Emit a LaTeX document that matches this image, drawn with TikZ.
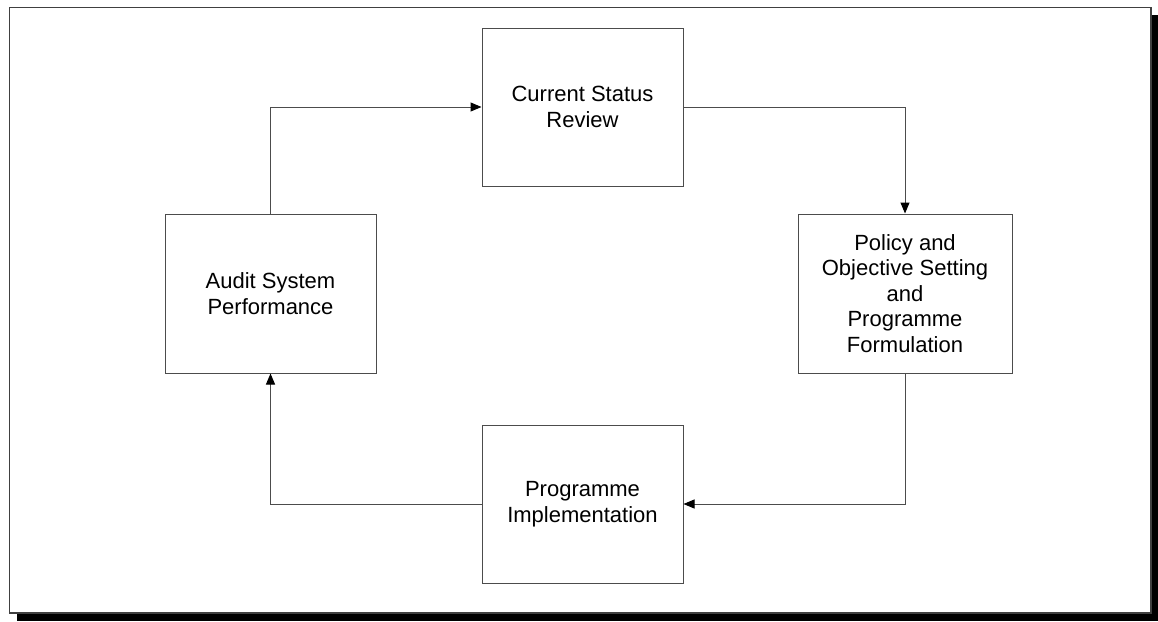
\documentclass[tikz,border=0pt]{standalone}
\usepackage{fontspec}
\setmainfont{Liberation Sans}
\usetikzlibrary{arrows.meta}
\begin{document}
\begin{tikzpicture}[x=1pt,y=-1pt,
  stepbox/.style={draw=black!70,line width=1pt,fill=white,minimum width=#1,align=center,font=\fontsize{22}{25.5}\selectfont},
  conn/.style={draw=black!70,line width=1pt,-{Triangle[length=11pt,width=9pt,color=black]}}]
\useasboundingbox (0,0) rectangle (1158,621);
\fill[black] (17,15) rectangle (1158,621);
\draw[fill=white,draw=black!75,line width=1.5pt] (9.5,7.5) rectangle (1151,613);
\node[stepbox=201pt,minimum height=158pt] (csr) at (582.5,107) {Current Status\\Review};
\node[stepbox=214pt,minimum height=159pt] (pos) at (905,293.5) {Policy and\\Objective Setting\\and\\Programme\\Formulation};
\node[stepbox=201pt,minimum height=158pt] (pi) at (582.5,504) {Programme\\Implementation};
\node[stepbox=211pt,minimum height=159pt] (asp) at (270.5,293.5) {Audit System\\Performance};
\draw[conn] (asp.north) |- (csr.west);
\draw[conn] (csr.east) -| (pos.north);
\draw[conn] (pos.south) |- (pi.east);
\draw[conn] (pi.west) -| (asp.south);
\end{tikzpicture}
\end{document}
